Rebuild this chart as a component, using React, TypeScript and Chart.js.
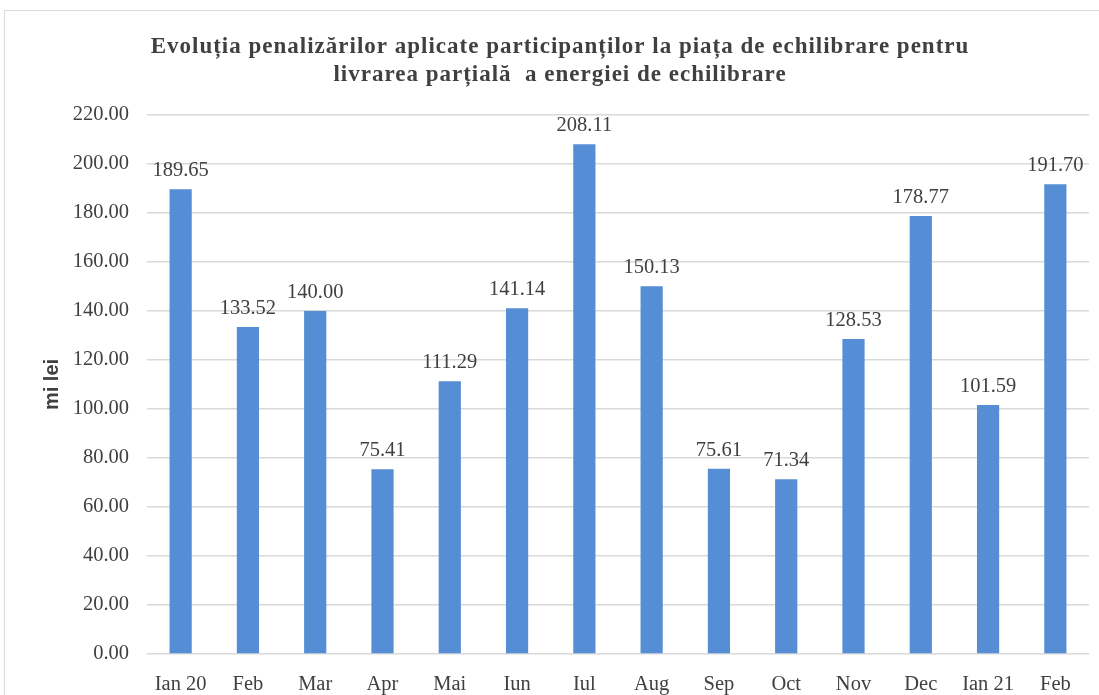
import React, { useEffect, useRef } from "react";
import { Chart, registerables } from "chart.js";

Chart.register(...registerables);

const categories = ["Ian 20", "Feb", "Mar", "Apr", "Mai", "Iun", "Iul", "Aug", "Sep", "Oct", "Nov", "Dec", "Ian 21", "Feb"];
const values = [189.65, 133.52, 140.0, 75.41, 111.29, 141.14, 208.11, 150.13, 75.61, 71.34, 128.53, 178.77, 101.59, 191.7];
const titleLines = [
  "Evoluția penalizărilor aplicate participanților la piața de echilibrare pentru",
  "livrarea parțială  a energiei de echilibrare",
];
const yAxisTitle = "mi lei";

const TEXT = "#404040";
const SERIF = "'Liberation Serif', 'Times New Roman', serif";

const dataLabels = {
  id: "dataLabels",
  afterDatasetsDraw(chart: any) {
    const ctx = chart.ctx;
    const meta = chart.getDatasetMeta(0);
    ctx.save();
    ctx.font = `20.5px ${SERIF}`;
    ctx.fillStyle = TEXT;
    ctx.textAlign = "center";
    ctx.textBaseline = "alphabetic";
    meta.data.forEach((el: any, i: number) => {
      ctx.fillText(values[i].toFixed(2), el.x, el.y - 13);
    });
    ctx.restore();
  },
};

const spacedTitle = {
  id: "spacedTitle",
  afterDraw(chart: any) {
    const ctx = chart.ctx;
    ctx.save();
    ctx.font = `bold 23px ${SERIF}`;
    (ctx as any).letterSpacing = "1px";
    ctx.fillStyle = TEXT;
    ctx.textAlign = "center";
    ctx.textBaseline = "alphabetic";
    titleLines.forEach((line, i) => {
      ctx.fillText(line, 560, 53 + i * 28);
    });
    ctx.restore();
  },
};

export default function App() {
  const ref = useRef<HTMLCanvasElement>(null);
  useEffect(() => {
    if (!ref.current) return;
    const chart = new Chart(ref.current, {
      type: "bar",
      data: {
        labels: categories,
        datasets: [
          {
            data: values,
            backgroundColor: "#558ED5",
            barPercentage: 0.33,
            categoryPercentage: 1,
          },
        ],
      },
      options: {
        animation: false,
        responsive: false,
        maintainAspectRatio: false,
        layout: { padding: { left: 36, right: 10, top: 115, bottom: 0 } },
        plugins: {
          legend: { display: false },
          tooltip: { enabled: false },
          title: { display: false },
        },
        scales: {
          x: {
            grid: { display: false },
            border: { display: false },
            ticks: { color: TEXT, font: { family: SERIF, size: 20.5 }, padding: 10, maxRotation: 0 },
            afterFit: (s: any) => { s.height = 41; },
          },
          y: {
            min: 0,
            max: 220,
            ticks: {
              stepSize: 20,
              color: TEXT,
              font: { family: SERIF, size: 20.5 },
              padding: 18,
              callback: (v: any) => Number(v).toFixed(2),
            },
            grid: { color: "#d9d9d9", lineWidth: 1.5, drawTicks: false },
            border: { display: false },
            title: {
              display: true,
              text: yAxisTitle,
              color: TEXT,
              font: { family: "'Liberation Sans', Arial, sans-serif", size: 20, weight: "bold" },
              padding: 4,
            },
            afterFit: (s: any) => { s.width = 111; },
          },
        },
      },
      plugins: [dataLabels, spacedTitle],
    });
    return () => chart.destroy();
  }, []);
  return (
    <div style={{ position: "fixed", left: 0, top: 0, width: 1099, height: 695, overflow: "hidden", background: "#fff" }}>
      <div style={{ position: "absolute", left: 4, top: 10, width: 1200, height: 800, border: "1.5px solid #d9d9d9" }} />
      <canvas ref={ref} width={1099} height={695} style={{ position: "absolute", left: 0, top: 0 }} />
    </div>
  );
}
